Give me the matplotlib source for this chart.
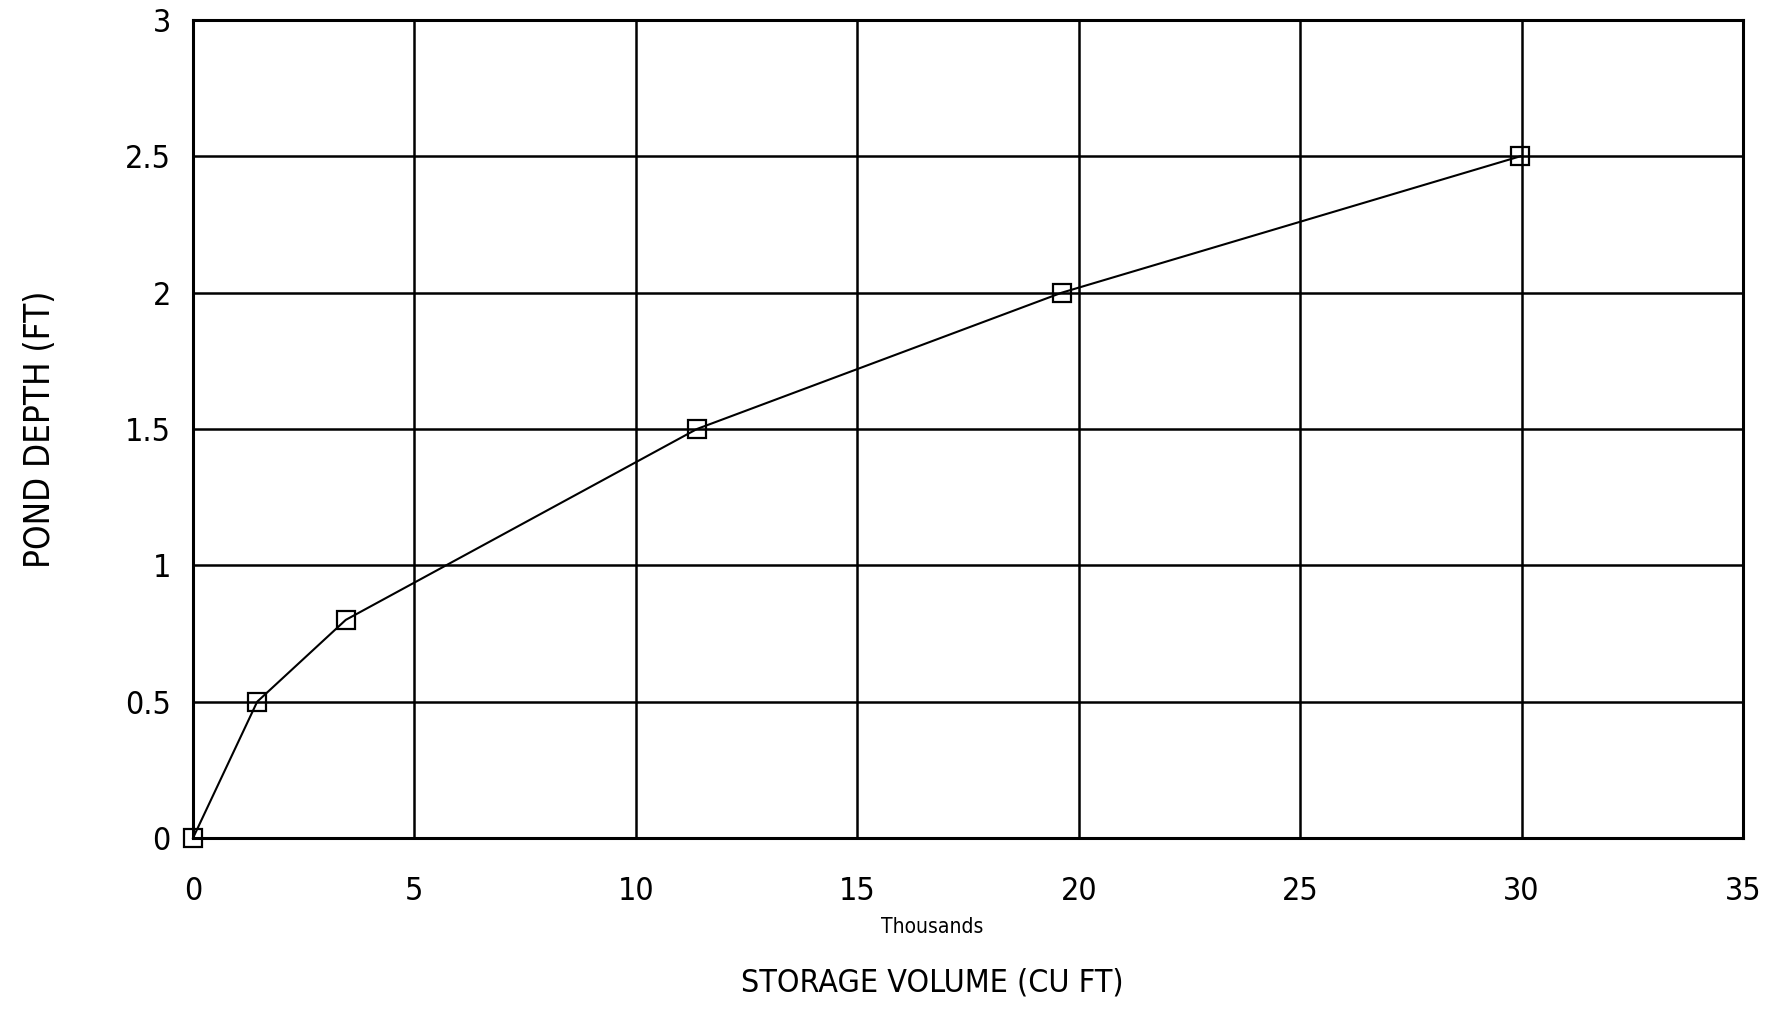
import matplotlib
matplotlib.use("Agg")
import matplotlib.pyplot as plt

# storage volume (thousands of cu ft) vs pond depth (ft)
volume = [0, 1.45, 3.45, 11.38, 19.62, 29.97]
depth = [0, 0.5, 0.8, 1.5, 2.0, 2.5]

x_ticks = [0, 5, 10, 15, 20, 25, 30, 35]
y_ticks = [0, 0.5, 1, 1.5, 2, 2.5, 3]
y_labels = ["0", "0.5", "1", "1.5", "2", "2.5", "3"]

plt.rcParams['font.family'] = ['DejaVu Sans']
plt.rcParams['font.stretch'] = 'condensed'

fig = plt.figure(figsize=(17.69, 10.18), dpi=100)
ax = fig.add_axes([0.1091, 0.1768, 0.8762, 0.8036])

ax.plot(volume, depth, color='black', linewidth=1.5, marker='s',
        markersize=12.5, markerfacecolor='none', markeredgecolor='black',
        markeredgewidth=1.6, zorder=3, clip_on=False)

ax.set_xlim(0, 35)
ax.set_ylim(0, 3)
ax.set_xticks(x_ticks)
ax.set_yticks(y_ticks)
ax.set_yticklabels(y_labels)
ax.grid(True, color='black', linewidth=1.8)
ax.tick_params(length=0, labelsize=23)
ax.tick_params(axis='x', pad=27)
ax.tick_params(axis='y', pad=16)
for s in ax.spines.values():
    s.set_linewidth(2.2)

fig.text(0.0226, 0.5786, "POND DEPTH (FT)", fontsize=25, rotation=90,
         ha='center', va='center')
fig.text(0.527, 0.089, "Thousands", fontsize=15, ha='center', va='center')
fig.text(0.527, 0.034, "STORAGE VOLUME (CU FT)", fontsize=23, ha='center', va='center')

fig.savefig("out.png", dpi=100)
